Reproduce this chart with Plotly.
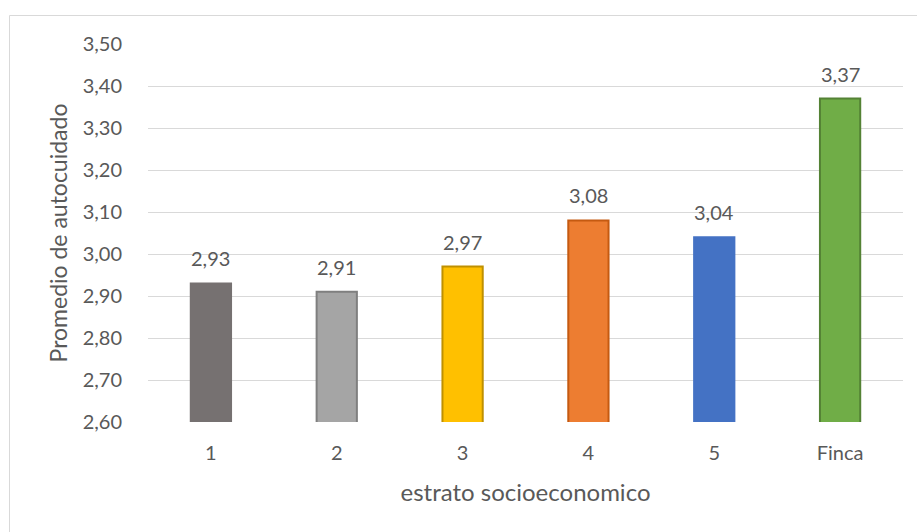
import plotly.graph_objects as go

categorias = ["1", "2", "3", "4", "5", "Finca"]
promedios = [2.93, 2.91, 2.97, 3.08, 3.04, 3.37]
rellenos = ["#767171", "#A5A5A5", "#FFC000", "#ED7D31", "#4472C4", "#70AD47"]
bordes = ["#767171", "#7F7F7F", "#BF9000", "#C55A11", "#4472C4", "#548235"]
marcas_y = [2.6, 2.7, 2.8, 2.9, 3.0, 3.1, 3.2, 3.3, 3.4, 3.5]

fuente = "Lato"
gris = "#595959"

fig = go.Figure()
fig.add_trace(go.Bar(
    x=categorias,
    y=promedios,
    width=0.32,
    marker=dict(color=rellenos, line=dict(color=bordes, width=2)),
    hoverinfo="x+y",
))

# value labels above each bar (category axis positions are 0..n-1)
for i, val in enumerate(promedios):
    fig.add_annotation(
        x=i, y=val, text=f"{val:.2f}".replace(".", ","),
        showarrow=False, yanchor="middle", yshift=25,
        font=dict(family=fuente, size=20, color=gris),
    )

fig.update_layout(
    width=917, height=532,
    margin=dict(l=148, r=14, t=44, b=110),
    paper_bgcolor="white", plot_bgcolor="white",
    separators=",.",
    showlegend=False,
    font=dict(family=fuente, color=gris, size=20),
    xaxis=dict(
        type="category",
        showgrid=False, showline=False, zeroline=False,
        ticks="outside", ticklen=13, tickcolor="rgba(0,0,0,0)",
        tickfont=dict(size=20, color=gris),
        title=dict(text="estrato socioeconomico", font=dict(size=24, color=gris), standoff=21),
    ),
    yaxis=dict(
        range=[2.6, 3.5], tickvals=marcas_y, tickformat=".2f",
        showgrid=True, gridcolor="#D9D9D9", gridwidth=1,
        zeroline=False, showline=False,
        ticks="outside", ticklen=21, tickcolor="rgba(0,0,0,0)",
        tickfont=dict(size=20, color=gris),
        title=dict(text="Promedio de autocuidado", font=dict(size=23, color=gris), standoff=8),
    ),
    shapes=[dict(
        type="rect", xref="paper", yref="paper",
        x0=-148/755 + 9.5/755, x1=1.2, y0=-0.5, y1=1 + 28.5/378,
        line=dict(color="#D9D9D9", width=1), fillcolor="rgba(0,0,0,0)", layer="below",
    )],
)

fig.write_html("out.html")
